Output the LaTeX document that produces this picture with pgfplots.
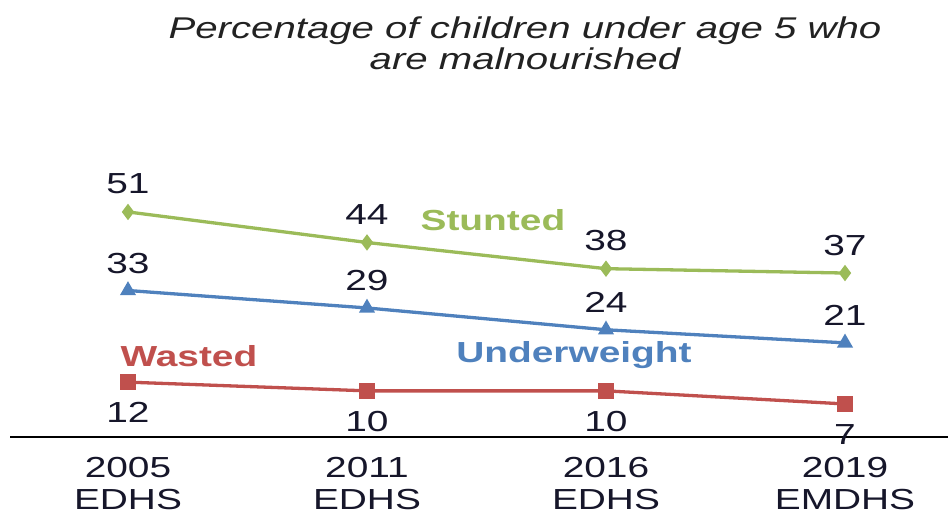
\documentclass[border=0pt]{standalone}
\usepackage{fontspec}
\setmainfont{Liberation Sans}[FakeStretch=1.34]
\usepackage{pgfplots}
\pgfplotsset{compat=1.18}
\definecolor{cgreen}{HTML}{9BBB59}
\definecolor{cblue}{HTML}{4F81BD}
\definecolor{cred}{HTML}{C0504D}
\definecolor{ctext}{HTML}{16162A}
\definecolor{ctitle}{HTML}{222222}
\begin{document}
\begin{tikzpicture}
\begin{axis}[
 scale only axis, width=938bp, height=437bp,
 xmin=-0.4937, xmax=3.431, ymin=-0.57, ymax=99.57,
 axis x line*=bottom, axis y line=none,
 x axis line style={line width=1.2bp, black, -},
 xtick={0,1,2,3},
 xticklabels={{2005\\EDHS},{2011\\EDHS},{2016\\EDHS},{2019\\EMDHS}},
 major tick length=0pt,
 xticklabel style={align=center, anchor=north, inner sep=0pt, text depth=0pt, yshift=-20bp, font=\fontsize{29bp}{32.5bp}\selectfont, text=ctext},
 clip=false,
 /pgf/number format/assume math mode=true,
 nodes near coords,
 every node near coord/.append style={font=\fontsize{29bp}{33bp}\selectfont, text=ctext, inner sep=0pt, anchor=base},
]
\addplot[cgreen, line width=3.3bp, mark=diamond*, mark size=5.5bp, mark options={solid},
  every node near coord/.append style={yshift=18bp}] coordinates {(0,51) (1,44) (2,38) (3,37)};
\addplot[cblue, line width=3.3bp, mark=triangle*, mark size=6bp, mark options={solid},
  every node near coord/.append style={yshift=17bp}] coordinates {(0,33) (1,29) (2,24) (3,21)};
\addplot[cred, line width=3.3bp, mark=square*, mark size=6.5bp, mark options={solid},
  every node near coord/.append style={yshift=-40.5bp}] coordinates {(0,12) (1,10) (2,10) (3,7)};
\node[anchor=base, text=cgreen, font=\bfseries\fontsize{29bp}{33bp}\selectfont] at (axis cs:1.527,46.86) {Stunted};
\node[anchor=base, text=cblue, font=\bfseries\fontsize{29bp}{33bp}\selectfont] at (axis cs:1.866,16.61) {Underweight};
\node[anchor=base, text=cred, font=\bfseries\fontsize{29bp}{33bp}\selectfont] at (axis cs:0.255,15.47) {Wasted};
\node[anchor=base, text=ctitle, font=\itshape\fontsize{30bp}{32bp}\selectfont] at (rel axis cs:0.549,0.913) {Percentage of children under age 5 who};
\node[anchor=base, text=ctitle, font=\itshape\fontsize{30bp}{32bp}\selectfont] at (rel axis cs:0.549,0.840) {are malnourished};
\coordinate (BL) at (rel axis cs:0,0);
\coordinate (TR) at (rel axis cs:1,1);
\end{axis}
\pgfresetboundingbox
\path (BL) ++(-10bp,-79bp) rectangle (TR);
\end{tikzpicture}
\end{document}
